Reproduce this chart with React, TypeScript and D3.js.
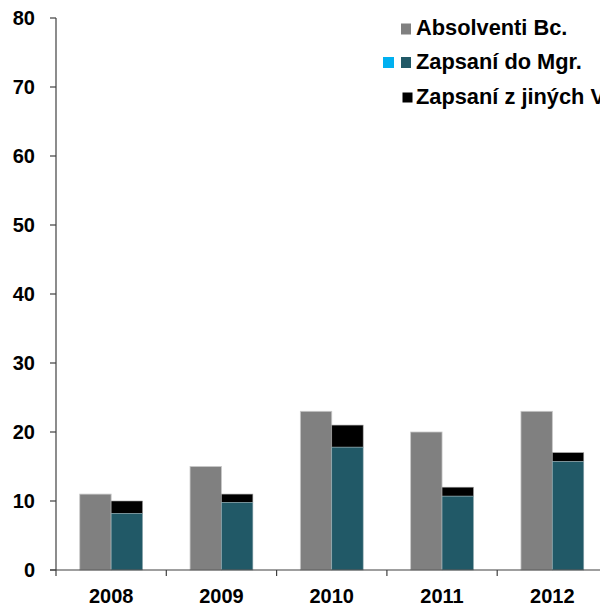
import React from "react";
import * as d3 from "d3";

const years = ["2008", "2009", "2010", "2011", "2012"];
const absolventi = [11, 15, 23, 20, 23];
const zapsaniMgr = [8.2, 9.8, 17.8, 10.7, 15.7];
const zapsaniJine = [1.8, 1.2, 3.2, 1.3, 1.3];
const yTicks = [0, 10, 20, 30, 40, 50, 60, 70, 80];
const legendLabels = ["Absolventi Bc.", "Zapsaní do Mgr.", "Zapsaní z jiných VŠ"];

const W = 600;
const H = 606;
const x0 = 56;
const yBottom = 570;
const yTop = 18;
const font = "'Liberation Sans', Arial, sans-serif";
const GRAY = "#808080";
const TEAL = "#215967";
const AXIS = "#404040";

export default function App() {
  const x = d3.scaleBand<string>().domain(years).range([x0, x0 + 5 * 110.3]).padding(0);
  const xs = d3
    .scaleBand<string>()
    .domain(["a", "b"])
    .range([0, x.bandwidth()])
    .paddingInner(0)
    .paddingOuter(0.756);
  const y = d3.scaleLinear().domain([0, 80]).range([yBottom, yTop]);

  return (
    <svg
      width={W}
      height={H}
      style={{ position: "absolute", left: 0, top: 0, background: "#fff" }}
      fontFamily={font}
    >
      {/* bars */}
      {years.map((yr, i) => {
        const bx = x(yr)!;
        const ga = bx + xs("a")!;
        const gb = bx + xs("b")!;
        const bw = xs.bandwidth();
        const t = zapsaniMgr[i];
        const tot = t + zapsaniJine[i];
        return (
          <g key={yr}>
            <rect
              x={ga}
              y={y(absolventi[i])}
              width={bw}
              height={y(0) - y(absolventi[i])}
              fill={GRAY}
              stroke="#c8c8c8"
              strokeWidth={0.8}
            />
            <rect
              x={gb}
              y={y(tot)}
              width={bw}
              height={y(t) - y(tot)}
              fill="#000"
              stroke="#9a9a9a"
              strokeWidth={0.6}
            />
            <rect
              x={gb}
              y={y(t)}
              width={bw}
              height={y(0) - y(t)}
              fill={TEAL}
              stroke="#8fa8ae"
              strokeWidth={0.6}
            />
          </g>
        );
      })}

      {/* y axis */}
      <line x1={x0} x2={x0} y1={y(80)} y2={yBottom} stroke={AXIS} strokeWidth={1.2} />
      {yTicks.map((v) => (
        <g key={v}>
          <line x1={x0 - 6} x2={x0} y1={y(v)} y2={y(v)} stroke={AXIS} strokeWidth={1.2} />
          <text
            x={35}
            y={y(v)}
            dy="0.36em"
            textAnchor="end"
            fontSize={20}
            fontWeight="bold"
            fill="#000"
          >
            {v}
          </text>
        </g>
      ))}

      {/* x axis */}
      <line x1={x0 - 6} x2={W} y1={yBottom} y2={yBottom} stroke={AXIS} strokeWidth={1.2} />
      {years.map((yr) => (
        <g key={yr}>
          <line
            x1={x(yr)!}
            x2={x(yr)!}
            y1={yBottom}
            y2={yBottom + 6}
            stroke={AXIS}
            strokeWidth={1.2}
          />
          <text
            x={x(yr)! + x.bandwidth() / 2}
            y={603}
            textAnchor="middle"
            fontSize={20}
            fontWeight="bold"
            fill="#000"
          >
            {yr}
          </text>
        </g>
      ))}

      {/* legend */}
      <rect x={401} y={23.5} width={10} height={11} fill={GRAY} />
      <text x={416} y={35} fontSize={21.8} fontWeight="bold" fill="#000">
        {legendLabels[0]}
      </text>
      <rect x={383} y={57} width={11} height={11} fill="#00b0f0" />
      <rect x={401} y={57} width={10} height={11} fill={TEAL} />
      <text x={416} y={68.5} fontSize={21.8} fontWeight="bold" fill="#000">
        {legendLabels[1]}
      </text>
      <rect x={402.5} y={92.5} width={10} height={10} fill="#000" />
      <text x={416} y={103.5} fontSize={21.8} fontWeight="bold" fill="#000">
        {legendLabels[2]}
      </text>
    </svg>
  );
}
